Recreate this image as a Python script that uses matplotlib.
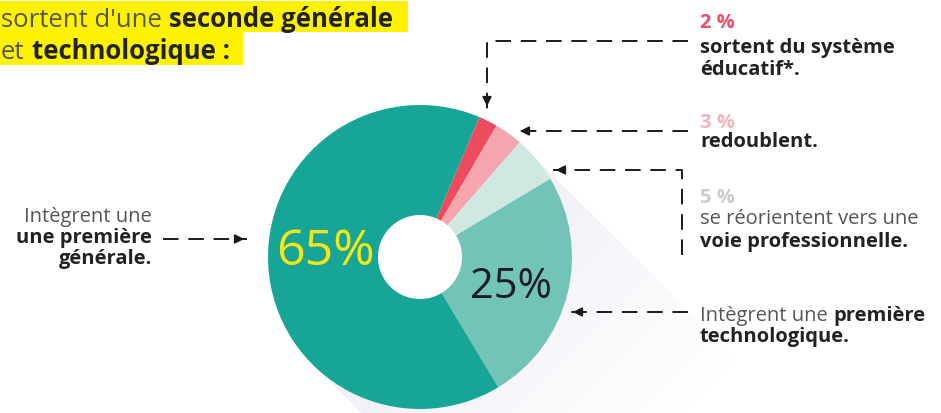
import numpy as np
import matplotlib.pyplot as plt
from matplotlib.colors import to_rgb

plt.rcParams['font.family'] = ['Open Sans', 'DejaVu Sans']

# parts des élèves sortant de seconde GT (ordre horaire depuis le haut)
parts = ["sortent du système éducatif", "redoublent", "voie professionnelle",
         "première technologique", "première générale"]
pcts = [2, 3, 5, 25, 65]
colors = ["#ee4b5e", "#f5a5ad", "#cfe9e2", "#72c3b8", "#17a597"]
pct_labels = ["2 %", "3 %", "5 %", "25%", "65%"]
pct_colors = ["#e8506a", "#f6b5bd", "#c9cdcd", "#1c1c2a", "#f5e614"]

W, H = 941, 414
DARK = "#222222"
GREY = "#555555"

fig = plt.figure(figsize=(W / 100, H / 100), dpi=100)
ax = fig.add_axes([0, 0, 1, 1])
rend = fig.canvas.get_renderer()


def Y(y):
    return H - y


cx, cy, r, hole = 420, Y(258), 152, 42

# ombre portée diagonale
gx, gy = np.meshgrid(np.arange(W) + 0.5, np.arange(H) + 0.5)
along = ((gx - cx) - (gy - cy)) / np.sqrt(2)
across = ((gx - cx) + (gy - cy)) / np.sqrt(2)
mask = (along > 0) & (np.abs(across) < r) & (np.hypot(gx - cx, gy - cy) > r)
img = np.zeros((H, W, 4))
img[..., :3] = to_rgb("#e2ddee")
img[..., 3] = np.clip(0.5 * (1 - along / 300), 0, None) * mask
ax.imshow(img, extent=(0, W, 0, H), origin="lower", zorder=0)

ax.pie(pcts, colors=colors, startangle=67, counterclock=False, radius=r,
       center=(cx, cy), frame=True,
       wedgeprops=dict(width=r - hole, linewidth=0))
ax.set_xlim(0, W)
ax.set_ylim(0, H)
ax.set_aspect("auto")
ax.axis("off")

ax.text(325, Y(252), pct_labels[4], fontsize=36, color=pct_colors[4],
        ha="center", va="center", fontweight="medium")
ax.text(511, Y(287), pct_labels[3], fontsize=30, color=pct_colors[3],
        ha="center", va="center", fontweight="medium")


def line(x, y, runs, size):
    gap = 0.28 * size * 100 / 72
    for s, wt, col in runs:
        t = ax.text(x, Y(y), s, fontsize=size, fontweight=wt, color=col,
                    va="baseline", ha="left")
        x += t.get_window_extent(rend).width + gap
    return x


# titre surligné
ax.add_patch(plt.Rectangle((0, Y(33)), 408, 31, color="#fff200", lw=0, zorder=1))
ax.add_patch(plt.Rectangle((0, Y(66)), 243, 33, color="#fff200", lw=0, zorder=1))
line(1, 27, [("sortent d'une", "normal", GREY), ("seconde générale", "bold", DARK)], 18.5)
line(1, 59, [("et", "normal", GREY), ("technologique :", "bold", DARK)], 18.5)

# libellés de droite
fs = 14.5
ax.text(700, Y(28), pct_labels[0], fontsize=fs, fontweight="bold", color=pct_colors[0])
line(700, 53, [("sortent du système", "bold", DARK)], fs)
line(700, 75, [("éducatif*.", "bold", DARK)], fs)
ax.text(700, Y(128), pct_labels[1], fontsize=fs, fontweight="bold", color=pct_colors[1])
line(700, 147, [("redoublent.", "bold", DARK)], fs)
ax.text(700, Y(203), pct_labels[2], fontsize=fs, fontweight="bold", color=pct_colors[2])
line(700, 224, [("se réorientent vers une", "normal", GREY)], fs)
line(700, 247, [("voie professionnelle.", "bold", DARK)], fs)
line(700, 321, [("Intègrent une", "normal", GREY), ("première", "bold", DARK)], fs)
line(700, 342, [("technologique.", "bold", DARK)], fs)

# libellé de gauche
ax.text(152, Y(222), "Intègrent une", fontsize=fs, color=GREY, ha="right")
ax.text(152, Y(243), "une première", fontsize=fs, color=DARK, ha="right", fontweight="bold")
ax.text(152, Y(264), "générale.", fontsize=fs, color=DARK, ha="right", fontweight="bold")

# flèches pointillées
dash = dict(color="#1a1a1a", lw=1.4, dashes=(8, 5), solid_capstyle="butt")
head = dict(arrowstyle="-|>", color="#1a1a1a", lw=1.4, mutation_scale=13)


def arrow(xs, ys):
    ax.plot(xs, [Y(v) for v in ys], **dash)
    x1, y1 = xs[-1], Y(ys[-1])
    x0, y0 = xs[-2], Y(ys[-2])
    dx, dy = np.sign(x1 - x0), np.sign(y1 - y0)
    ax.annotate("", xy=(x1, y1), xytext=(x1 - 12 * dx, y1 - 12 * dy),
                arrowprops=head)


arrow([688, 487, 487], [42, 42, 110])
arrow([688, 517], [132, 132])
arrow([682, 682, 553], [256, 171, 171])
arrow([688, 570], [313, 313])
arrow([163, 247], [240, 240])

fig.savefig("out.png", dpi=100, facecolor="white")
